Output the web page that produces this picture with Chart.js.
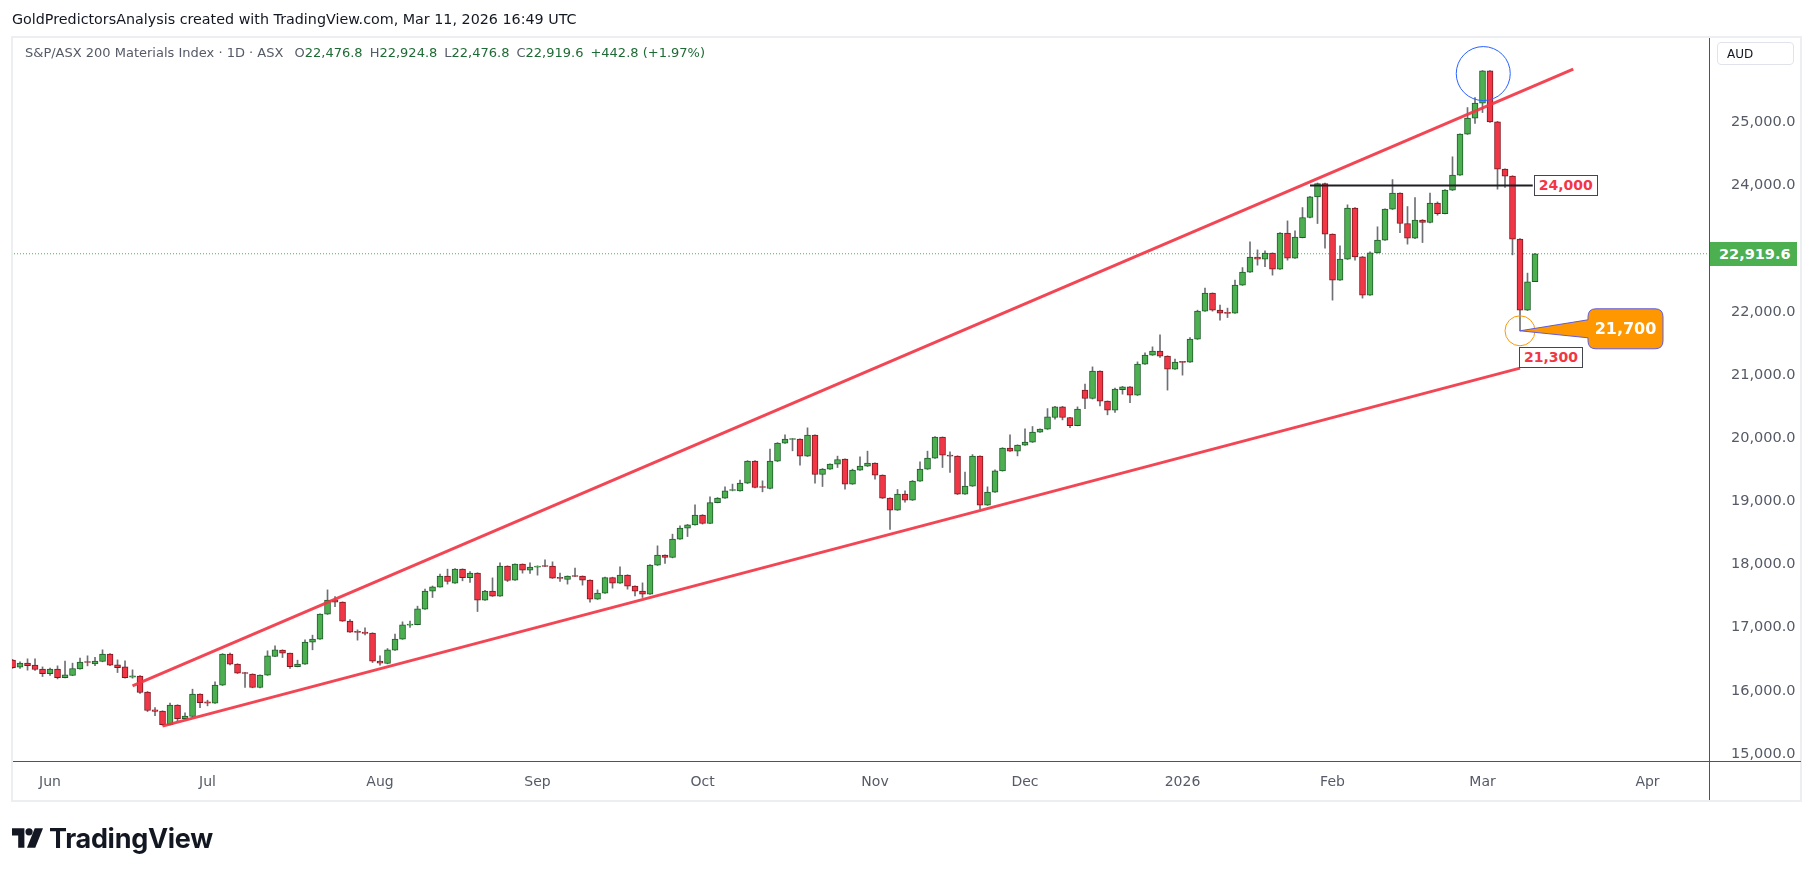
<!DOCTYPE html>
<html>
<head>
<meta charset="utf-8">
<script src="https://cdn.jsdelivr.net/npm/chart.js@4.4.1/dist/chart.umd.min.js"></script>
<style>
html,body{margin:0;padding:0;background:#fff;}
#wrap{position:relative;width:1814px;height:877px;overflow:hidden;font-family:"DejaVu Sans",Verdana,sans-serif;}
#c{position:absolute;left:0;top:0;}
.t{position:absolute;white-space:nowrap;line-height:1;}
#title{left:12px;top:12px;font-size:14.3px;color:#131722;}
#legend{left:25px;top:46px;font-size:13px;color:#555a66;}
#legend .v{color:#1f6b35;}
#legend .g{margin-left:7px;}
#aud{left:1717px;top:42px;width:77px;height:23px;border:1px solid #e0e3eb;border-radius:4px;box-sizing:border-box;font-size:12px;color:#131722;padding:5px 0 0 9px;}
.lbl{position:absolute;white-space:nowrap;background:#fff;border:1px solid #434651;color:#f23645;font-weight:bold;font-size:14px;line-height:19px;padding:0 4px;box-sizing:border-box;height:21px;}
#call{position:absolute;color:#fff;font-weight:bold;font-size:16px;width:75px;text-align:center;line-height:40px;}
#price{position:absolute;left:1710px;width:87px;height:24px;background:#4caf50;color:#fff;font-size:14.5px;line-height:24px;padding-left:9px;box-sizing:border-box;font-weight:bold;}
#logo{position:absolute;left:12px;top:825px;height:26px;display:flex;align-items:center;}
#logo span{font-family:Inter,"Liberation Sans",sans-serif;font-weight:700;font-size:27px;color:#131722;margin-left:6px;letter-spacing:-0.3px;}
</style>
</head>
<body>
<div id="wrap">
<canvas id="c" width="1814" height="877"></canvas>
<div class="t" id="title">GoldPredictorsAnalysis created with TradingView.com, Mar 11, 2026 16:49 UTC</div>
<div class="t" id="legend">S&amp;P/ASX 200 Materials Index · 1D · ASX <span class="g">O<span class="v">22,476.8</span></span><span class="g">H<span class="v">22,924.8</span></span><span class="g">L<span class="v">22,476.8</span></span><span class="g">C<span class="v">22,919.6</span></span><span class="g v">+442.8 (+1.97%)</span></div>
<div class="t" id="aud">AUD</div>
<div class="lbl" id="l24">24,000</div>
<div class="lbl" id="l213">21,300</div>
<div id="call">21,700</div>
<div id="price">22,919.6</div>
<div id="logo"><svg width="31" height="21" viewBox="0 0 30 20"><path d="M0 0H12V19H6V7H0Z" fill="#131722"/><circle cx="16.5" cy="3.5" r="3.5" fill="#131722"/><path d="M22 0H30L22.5 19H14.5Z" fill="#131722"/></svg><span>TradingView</span></div>
</div>
<script>
// ---- data (daily bars, late May 2025 .. 11 Mar 2026) ----
const opens = [16486,16376,16439,16407,16344,16274,16344,16211,16243,16349,
16455,16428,16465,16581,16412,16380,16217,16233,15980,15700,
15679,15467,15774,15562,15594,15948,15826,15806,16091,16581,
16423,16291,16265,16053,16249,16544,16645,16597,16385,16423,
16771,16819,17215,17441,17404,17104,16934,16930,16914,16470,
16433,16645,16819,17040,17050,17294,17579,17642,17816,17705,
17927,17794,17864,17436,17579,17500,17975,17753,18006,17911,
17959,17980,17975,17790,17763,17821,17816,17753,17452,17547,
17794,17705,17832,17658,17579,17531,17990,18149,18111,18402,
18576,18628,18782,18649,18981,19051,19172,19167,19288,19637,
19230,19204,19637,19922,19980,19985,19716,20048,19425,19510,
19589,19668,19273,19494,19557,19605,19415,19051,18861,19114,
19019,19320,19510,19684,20016,19732,19716,19114,19241,19716,
18940,19146,19483,19843,19795,19890,19937,20096,20143,20327,
20496,20327,20200,20761,20628,21061,20586,20444,20770,20813,
20681,21172,21315,21378,21299,21093,21210,21204,21568,22011,
22296,22027,21985,21979,22423,22629,22866,22834,22929,22676,
23246,22850,23176,23493,23821,24031,23230,22502,22834,23642,
22871,22264,22934,23135,23626,23879,23398,23167,23452,23414,
23721,23556,23927,24164,24813,25066,25304,25815,25008,24259,
24148,23151,22027,22476.8];
const highs = [16500,16459,16507,16507,16380,16360,16396,16470,16439,16518,
16555,16533,16650,16590,16491,16475,16333,16244,15990,15736,
15685,15806,15780,15652,16027,15955,15853,16143,16590,16600,
16430,16295,16270,16255,16634,16713,16650,16600,16486,16808,
16882,17220,17599,17493,17410,17130,16966,16998,16920,16555,
16670,16898,17093,17104,17341,17610,17660,17848,17927,17935,
17932,17889,17870,17590,17789,18027,17980,18012,18010,18027,
17980,18075,18043,17864,17820,17943,17820,17758,17599,17800,
17800,17964,17838,17662,17710,18000,18296,18155,18481,18612,
18635,18945,18790,19071,19060,19230,19273,19336,19645,19645,
19325,19827,19930,20053,19995,19990,20164,20055,19520,19595,
19716,19675,19510,19705,19795,19610,19420,19056,19188,19167,
19330,19626,19795,20025,20020,19784,19722,19462,19740,19722,
19230,19500,19850,20053,19895,20148,20185,20150,20469,20505,
20505,20332,20496,20856,21129,21066,20590,20792,20820,20818,
21208,21351,21446,21636,21304,21251,21215,21593,22027,22375,
22300,22106,22059,22502,22701,23108,22981,22965,22934,23255,
23440,23282,23651,23830,24040,24040,23235,23045,23694,23650,
22876,22950,23346,23632,24094,23885,23667,23810,23460,23879,
23740,23935,24454,24820,25234,25392,25820,25820,25015,24265,
24155,23160,22613,22924.8];
const lows = [16355,16354,16328,16322,16227,16243,16190,16205,16240,16345,
16396,16401,16460,16400,16290,16201,16201,15958,15673,15609,
15457,15460,15526,15555,15590,15736,15763,15800,16085,16410,
16275,16053,16048,16048,16245,16540,16528,16354,16380,16420,
16650,16815,17210,17335,17100,16925,16803,16887,16449,16407,
16428,16640,16815,17003,17045,17290,17478,17640,17690,17700,
17742,17715,17256,17430,17495,17495,17731,17748,17864,17858,
17832,17965,17780,17731,17690,17806,17674,17404,17447,17542,
17626,17700,17610,17504,17478,17526,17985,18016,18105,18398,
18443,18622,18640,18645,18976,19045,19165,19160,19282,19212,
19151,19198,19630,19918,19800,19573,19710,19288,19235,19505,
19536,19193,19268,19490,19552,19352,19045,18554,18856,18988,
19014,19315,19505,19680,19536,19457,19108,19108,19236,18877,
18935,19140,19478,19790,19720,19885,19932,20090,20138,20300,
20290,20168,20195,20469,20620,20512,20370,20406,20697,20564,
20676,21167,21310,21277,20761,21088,20998,21200,21563,22006,
22011,21869,21910,21974,22418,22624,22739,22717,22581,22670,
22818,22845,23170,23488,23398,23008,22185,22497,22829,22820,
22217,22259,22929,23130,23620,23255,23072,23160,23097,23408,
23530,23550,23920,24158,24808,24981,25155,25000,23942,23968,
22902,21700,22020,22476.8];
const closes = [16369,16439,16401,16338,16274,16344,16211,16254,16354,16455,
16449,16470,16581,16407,16369,16211,16238,15974,15689,15673,
15467,15774,15562,15600,15948,15815,15806,16091,16581,16423,
16281,16275,16053,16249,16555,16650,16597,16385,16423,16771,
16819,17215,17436,17404,17104,16930,16925,16908,16470,16439,
16650,16819,17045,17056,17299,17579,17647,17816,17731,17927,
17794,17864,17436,17579,17500,17975,17747,18006,17911,17959,
17975,17969,17785,17780,17816,17811,17753,17452,17547,17794,
17705,17832,17658,17579,17531,17990,18149,18111,18402,18576,
18628,18782,18649,18981,19051,19167,19183,19288,19637,19219,
19219,19637,19922,19985,19990,19716,20048,19425,19510,19589,
19662,19273,19494,19557,19605,19415,19051,18861,19114,19019,
19320,19510,19684,20016,19732,19716,19114,19241,19716,18940,
19146,19483,19843,19795,19890,19937,20096,20143,20338,20496,
20327,20200,20460,20628,21061,20586,20444,20776,20813,20681,
21172,21315,21378,21299,21093,21204,21200,21568,22011,22296,
22027,21979,21975,22423,22629,22866,22834,22929,22676,23246,
22850,23182,23493,23821,24031,23230,22502,22834,23642,22871,
22264,22934,23135,23626,23879,23398,23167,23452,23414,23721,
23556,23927,24164,24813,25066,25304,25815,25008,24259,24148,
23151,22027,22476.8,22919.6];

// time axis: bar index of first trading day of each month
const monthIdx = [5,26,49,70,92,115,135,156,176,196,218];
const monthLabels = ['Jun','Jul','Aug','Sep','Oct','Nov','Dec','2026','Feb','Mar','Apr'];
const yTickValues = [15000,16000,17000,18000,19000,20000,21000,22000,23000,24000,25000];

// drawings (bar index, price)
const upperTrend = [[16,16080],[208.1,25842]];
const lowerTrend = [[20,15442],[201,21109]];
const resistance = [[173,24000],[202.7,24000]];
const lastPrice = 22919.6;
const peakMark = [196.1,25772];
const lowMark = [201,21700];

// ---- build ----
const up = i => closes[i] >= opens[i];
const bodies = opens.map((o,i)=>({x:i, y:[o, closes[i]]}));
const wicks = highs.map((h,i)=>({x:i, y:[lows[i], h]}));
const GREEN='#4caf50', GREEN_B='#1e5b2a', RED='#f23645', RED_B='#7c1820';

const deco = {
  id:'deco',
  beforeDraw(chart){
    const ctx=chart.ctx;
    ctx.save();
    ctx.fillStyle='#fff'; ctx.fillRect(0,0,1814,877);
    ctx.strokeStyle='#eceef2'; ctx.lineWidth=2;
    ctx.strokeRect(12,37,1789,764);
    ctx.restore();
  },
  afterDraw(chart){
    const ctx=chart.ctx, xs=chart.scales.x, ys=chart.scales.y, a=chart.chartArea;
    ctx.save();
    ctx.strokeStyle='#50535e'; ctx.lineWidth=1;
    ctx.beginPath(); ctx.moveTo(13,Math.round(a.bottom)+0.5); ctx.lineTo(1801,Math.round(a.bottom)+0.5); ctx.stroke();
    ctx.beginPath(); ctx.moveTo(Math.round(a.right)+0.5,38); ctx.lineTo(Math.round(a.right)+0.5,800); ctx.stroke();
    ctx.strokeStyle='#2962ff'; ctx.lineWidth=1;
    ctx.beginPath(); ctx.arc(xs.getPixelForValue(peakMark[0]), ys.getPixelForValue(peakMark[1]), 27, 0, Math.PI*2); ctx.stroke();
    const tx = xs.getPixelForValue(lowMark[0]), ty = ys.getPixelForValue(lowMark[1]);
    ctx.strokeStyle='#ff9800';
    ctx.beginPath(); ctx.arc(tx, ty, 15, 0, Math.PI*2); ctx.stroke();
    const bx = tx+68, by = ty-22, bw=75, bh=40, r=8;
    ctx.beginPath();
    ctx.moveTo(bx+r,by); ctx.lineTo(bx+bw-r,by); ctx.quadraticCurveTo(bx+bw,by,bx+bw,by+r);
    ctx.lineTo(bx+bw,by+bh-r); ctx.quadraticCurveTo(bx+bw,by+bh,bx+bw-r,by+bh);
    ctx.lineTo(bx+r,by+bh); ctx.quadraticCurveTo(bx,by+bh,bx,by+bh-r);
    ctx.lineTo(bx,by+29); ctx.lineTo(tx,ty); ctx.lineTo(bx,by+11);
    ctx.lineTo(bx,by+r); ctx.quadraticCurveTo(bx,by,bx+r,by);
    ctx.closePath();
    ctx.fillStyle='#ff9800'; ctx.fill();
    ctx.strokeStyle='#5c5ce6'; ctx.stroke();
    ctx.restore();
    const call=document.getElementById('call');
    call.style.left=bx+'px'; call.style.top=by+'px';
    const l24=document.getElementById('l24');
    l24.style.left=(xs.getPixelForValue(resistance[1][0])+1)+'px';
    l24.style.top=(ys.getPixelForValue(resistance[1][1])-11)+'px';
    const l213=document.getElementById('l213');
    l213.style.left=(xs.getPixelForValue(lowerTrend[1][0])-1)+'px';
    l213.style.top=(ys.getPixelForValue(lowerTrend[1][1])-21)+'px';
    const pr=document.getElementById('price');
    pr.style.top=(ys.getPixelForValue(lastPrice)-12)+'px';
  }
};

Chart.defaults.font.family='"DejaVu Sans", Verdana, sans-serif';
new Chart(document.getElementById('c'), {
  type:'bar',
  data:{datasets:[
    {type:'line', data:upperTrend.map(p=>({x:p[0],y:p[1]})), borderColor:'rgba(242,54,69,0.92)', borderWidth:3, pointRadius:0, order:0},
    {type:'line', data:lowerTrend.map(p=>({x:p[0],y:p[1]})), borderColor:'rgba(242,54,69,0.92)', borderWidth:3, pointRadius:0, order:0},
    {type:'line', data:resistance.map(p=>({x:p[0],y:p[1]})), borderColor:'#1e1e24', borderWidth:2, pointRadius:0, order:0},
    {data:bodies, grouped:false, barThickness:6, minBarLength:1, borderWidth:1, borderSkipped:false,
      backgroundColor:bodies.map((b,i)=>up(i)?GREEN:RED), borderColor:bodies.map((b,i)=>up(i)?GREEN_B:RED_B), order:1},
    {data:wicks, grouped:false, barThickness:1, borderWidth:0, backgroundColor:'#6f7075', order:2},
    {type:'line', data:[{x:-1,y:lastPrice},{x:240,y:lastPrice}], borderColor:'#4caf50', borderWidth:1, borderDash:[1,2], pointRadius:0, order:3}
  ]},
  options:{
    responsive:false, animation:false, devicePixelRatio:1,
    layout:{padding:{left:12,right:13,top:38,bottom:77}},
    plugins:{legend:{display:false}, tooltip:{enabled:false}},
    scales:{
      x:{type:'linear', offset:false, min:-0.07, max:226.2, position:'bottom',
        grid:{display:false, offset:false, drawTicks:false, tickLength:0}, border:{display:false},
        afterFit:s=>{s.height=39;},
        afterBuildTicks:s=>{s.ticks=monthIdx.map(v=>({value:v}));},
        ticks:{autoSkip:false, maxRotation:0, minRotation:0, padding:13, color:'#555a66', font:{size:14},
          callback:(v,i)=>monthLabels[i]}},
      y:{type:'linear', position:'right', min:14890, max:26335,
        grid:{display:false, drawTicks:false, tickLength:0}, border:{display:false},
        afterFit:s=>{s.width=92;},
        afterBuildTicks:s=>{s.ticks=yTickValues.map(v=>({value:v}));},
        ticks:{padding:22, color:'#555a66', font:{size:14.5},
          callback:v=>v.toLocaleString('en-US',{minimumFractionDigits:1,maximumFractionDigits:1})}}
    }
  },
  plugins:[deco]
});
</script>
</body>
</html>
